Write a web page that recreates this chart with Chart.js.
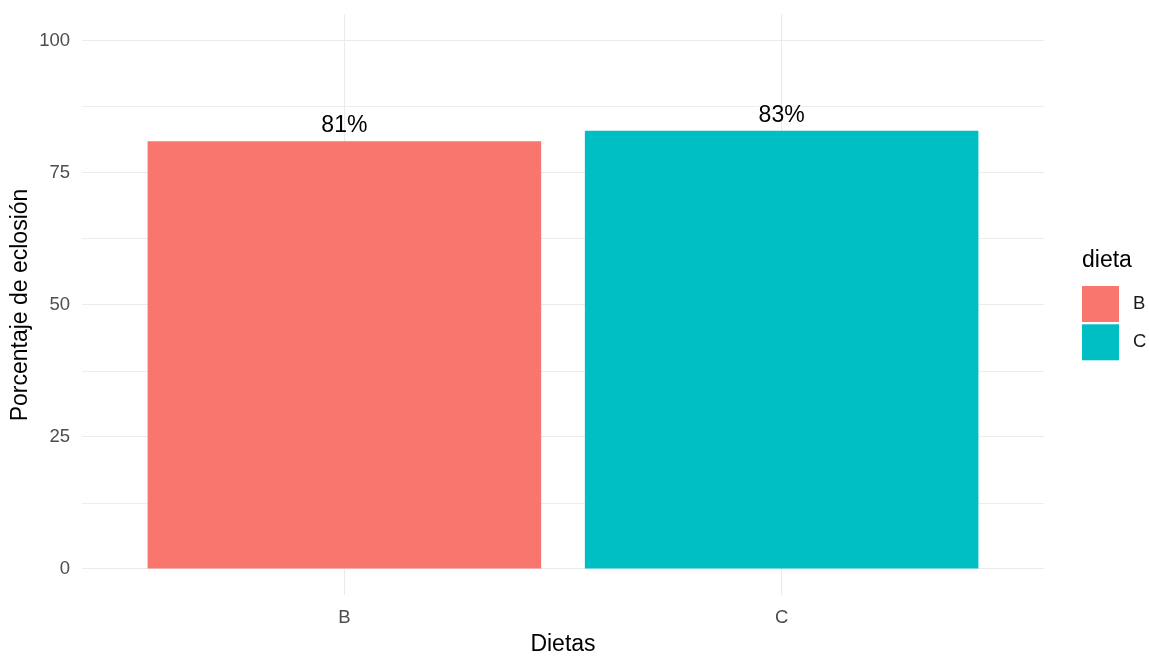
<!DOCTYPE html>
<html>
<head>
<meta charset="utf-8">
<script src="https://cdn.jsdelivr.net/npm/chart.js@4/dist/chart.umd.min.js"></script>
<style>
  html, body { margin: 0; padding: 0; background: #ffffff; }
  #wrap { width: 1149px; height: 656px; }
</style>
</head>
<body>
<div id="wrap"><canvas id="grafico" width="1149" height="656"></canvas></div>
<script>
// Datos: porcentaje de eclosión por dieta
const dietas = ['B', 'C'];
const eclosion = [81, 83];
const colores = ['#F8766D', '#00BFC4'];
const yTicks = [0, 12.5, 25, 37.5, 50, 62.5, 75, 87.5, 100];
const yEtiquetas = [0, 25, 50, 75, 100];

const FUENTE = '"Liberation Sans", Arial, sans-serif';

// Etiquetas de porcentaje encima de cada barra
const etiquetasBarras = {
  id: 'etiquetasBarras',
  afterDatasetsDraw(chart) {
    const { ctx, scales } = chart;
    ctx.save();
    ctx.font = '23px ' + FUENTE;
    ctx.fillStyle = '#000000';
    ctx.textAlign = 'center';
    ctx.textBaseline = 'alphabetic';
    eclosion.forEach((v, i) => {
      const x = scales.x.getPixelForValue(i + 1);
      const y = scales.y.getPixelForValue(v) - 9;
      ctx.fillText(v + '%', x, y);
    });
    ctx.restore();
  }
};

// Leyenda a la derecha, estilo ggplot
const leyenda = {
  id: 'leyenda',
  afterDraw(chart) {
    const { ctx } = chart;
    const x0 = 1082;
    ctx.save();
    ctx.fillStyle = '#000000';
    ctx.font = '23px ' + FUENTE;
    ctx.textAlign = 'left';
    ctx.textBaseline = 'alphabetic';
    ctx.fillText('dieta', x0, 267);
    ctx.font = '18.5px ' + FUENTE;
    ctx.textBaseline = 'middle';
    dietas.forEach((d, i) => {
      const top = 286 + i * 38.3;
      ctx.fillStyle = colores[i];
      ctx.fillRect(x0, top, 37, 36);
      ctx.fillStyle = '#1a1a1a';
      ctx.fillText(d, 1133, top + 18);
    });
    ctx.restore();
  }
};

new Chart(document.getElementById('grafico'), {
  type: 'bar',
  data: {
    datasets: [{
      label: 'dieta',
      data: eclosion.map((v, i) => ({ x: i + 1, y: v })),
      backgroundColor: colores,
      borderWidth: 0,
      barPercentage: 0.9,
      categoryPercentage: 1.0
    }]
  },
  options: {
    responsive: false,
    animation: false,
    layout: { padding: { top: 14.6, right: 105, bottom: 0, left: 0 } },
    plugins: { legend: { display: false }, tooltip: { enabled: false } },
    scales: {
      x: {
        type: 'linear',
        min: 0.4,
        max: 2.6,
        offset: false,
        afterBuildTicks: (s) => { s.ticks = dietas.map((d, i) => ({ value: i + 1 })); },
        afterFit: (s) => { s.height = 60.6; s.paddingLeft = 0; s.paddingRight = 0; },
        grid: { color: '#EBEBEB', lineWidth: 1.1, drawTicks: false, offset: false },
        border: { display: false },
        ticks: {
          padding: 11,
          color: '#4D4D4D',
          font: { family: FUENTE, size: 18.5 },
          callback: (v) => dietas[v - 1] || ''
        },
        title: {
          display: true,
          text: 'Dietas',
          color: '#000000',
          font: { family: FUENTE, size: 23, lineHeight: 1 },
          padding: { top: 0, bottom: 0 }
        }
      },
      y: {
        min: -5,
        max: 105,
        afterBuildTicks: (s) => { s.ticks = yTicks.map(v => ({ value: v })); },
        afterFit: (s) => { s.width = 82; s.paddingTop = 0; s.paddingBottom = 0; },
        grid: {
          color: '#EBEBEB',
          lineWidth: (c) => (yEtiquetas.includes(c.tick.value) ? 1.1 : 0.9),
          drawTicks: false
        },
        border: { display: false },
        ticks: {
          padding: 12,
          color: '#4D4D4D',
          font: { family: FUENTE, size: 18.5 },
          callback: (v) => (yEtiquetas.includes(v) ? String(v) : '')
        },
        title: {
          display: true,
          text: 'Porcentaje de eclosión',
          color: '#000000',
          font: { family: FUENTE, size: 23, lineHeight: 1 },
          padding: { top: 8.7, bottom: 0 }
        }
      }
    }
  },
  plugins: [etiquetasBarras, leyenda]
});
</script>
</body>
</html>
